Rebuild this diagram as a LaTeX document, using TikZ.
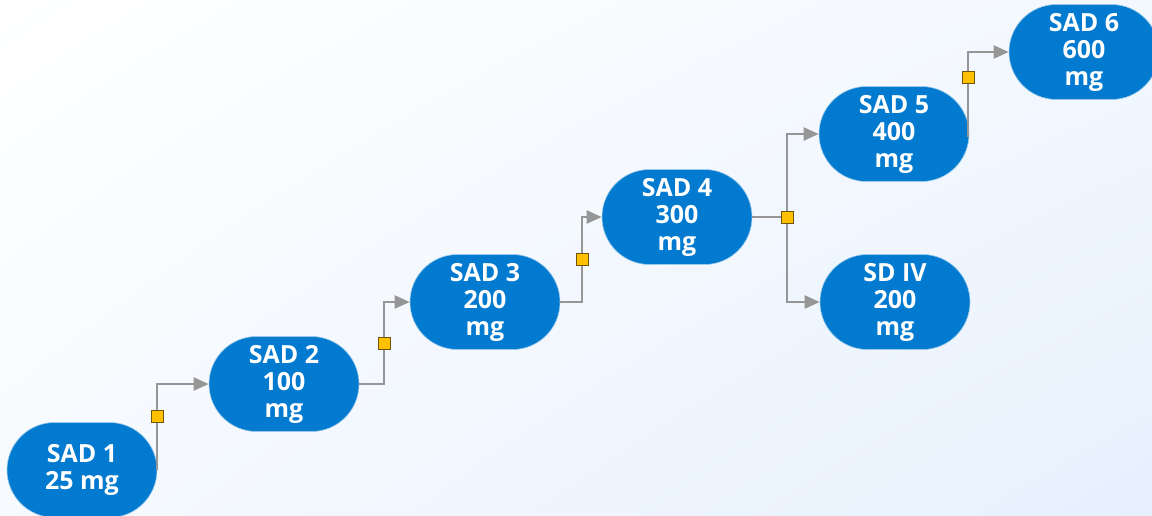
\documentclass[tikz,border=0pt]{standalone}
\usepackage{fontspec}
\setmainfont{Open Sans}
\usetikzlibrary{shapes.misc,arrows.meta,shadings}
\definecolor{nodeblue}{RGB}{2,122,207}
\definecolor{conngray}{RGB}{150,150,150}
\definecolor{sqyellow}{RGB}{255,192,0}
\definecolor{sqedge}{RGB}{110,85,10}
\definecolor{bgblue}{RGB}{230,240,253}
\definecolor{bgmid}{RGB}{243,248,254}
\tikzset{
  dose/.style={rounded rectangle, fill=nodeblue, draw=white!60!nodeblue, line width=0.6pt,
    minimum width=150pt, minimum height=95pt, inner sep=0pt,
    text=white, align=center, font=\fontsize{25}{27}\selectfont\bfseries},
  conn/.style={draw=conngray, line width=2.2pt, -{Triangle[length=15pt,width=13pt]}},
  plainconn/.style={draw=conngray, line width=2.2pt},
  sq/.style={rectangle, fill=sqyellow, draw=sqedge, line width=0.7pt,
    minimum size=12pt, inner sep=0pt}
}
\begin{document}
\begin{tikzpicture}[x=1pt,y=-1pt]
\shade[upper left=white, upper right=bgmid, lower left=bgmid!70!white, lower right=bgblue]
  (0,0) rectangle (1152,515);
\useasboundingbox (0,0) rectangle (1152,515);

\node[dose] (s1) at (82,470) {SAD 1\\25 mg};
\node[dose] (s2) at (284,384) {SAD 2\\100\\mg};
\node[dose] (s3) at (485,302) {SAD 3\\200\\mg};
\node[dose] (s4) at (677,217) {SAD 4\\300\\mg};
\node[dose] (s5) at (894,134) {SAD 5\\400\\mg};
\node[dose] (iv) at (895,302) {SD IV\\200\\mg};
\node[dose] (s6) at (1084,52) {SAD 6\\600\\mg};

\draw[conn] (s1.east) |- node[sq,pos=0.31] (q1) {} (s2.west);
\draw[conn] (s2.east) -- ++(25,0) |- node[sq,pos=0.25] (q2) {} (s3.west);
\draw[conn] (s3.east) -- ++(22,0) |- node[sq,pos=0.25] (q3) {} (s4.west);
\coordinate (j) at (787,217);
\draw[plainconn] (s4.east) -- (j);
\draw[conn] (j) |- (s5.west);
\draw[conn] (j) |- (iv.west);
\node[sq] (q4) at (j) {};
\coordinate (s5r) at (968,137);
\draw[conn] (s5r) |- node[sq,pos=0.35] (q5) {} (s6.west);
\end{tikzpicture}
\end{document}
